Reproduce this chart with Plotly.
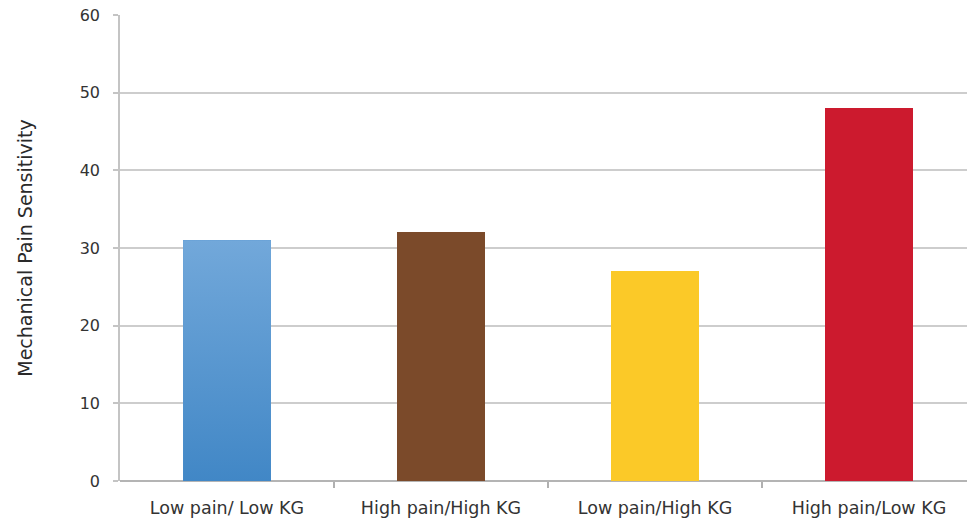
import plotly.graph_objects as go

# Group labels and mean mechanical pain sensitivity per group
groups = ["Low pain/ Low KG", "High pain/High KG", "Low pain/High KG", "High pain/Low KG"]
sensitivity = [31.0, 32.0, 27.1, 48.0]
bar_colors = ["#5897d2", "#7b4a2a", "#fbc928", "#cc1a2e"]
y_ticks = [0, 10, 20, 30, 40, 50, 60]

BAR_WIDTH = 0.41
positions = list(range(len(groups)))

fig = go.Figure()

fig.add_trace(go.Bar(
    x=positions,
    y=sensitivity,
    width=BAR_WIDTH,
    marker=dict(color=bar_colors, line=dict(width=0)),
    hovertext=groups,
    showlegend=False,
))

# First bar gets a soft top-to-bottom blue gradient
x0 = positions[0] - BAR_WIDTH / 2
x1 = positions[0] + BAR_WIDTH / 2
fig.add_trace(go.Scatter(
    x=[x0, x1, x1, x0, x0],
    y=[0, 0, sensitivity[0], sensitivity[0], 0],
    mode="lines",
    line=dict(width=0),
    fill="toself",
    fillgradient=dict(type="vertical",
                      colorscale=[[0, "#4187c6"], [1, "#72a8da"]]),
    hoverinfo="skip",
    showlegend=False,
))

FONT = "'DejaVu Sans', 'Open Sans', sans-serif"

fig.update_layout(
    width=967,
    height=523,
    margin=dict(l=120, r=0, t=15, b=42),
    paper_bgcolor="white",
    plot_bgcolor="white",
    bargap=0,
    xaxis=dict(
        range=[-0.5, -0.5 + 847 / 214],
        tickvals=positions,
        ticktext=groups,
        ticks="",
        tickfont=dict(family=FONT, size=17.5, color="#333333"),
        ticklabelstandoff=14,
        showgrid=False,
        zeroline=False,
        showline=False,
        minor=dict(tickvals=[p + 0.5 for p in positions], ticks="outside",
                   ticklen=6, tickcolor="#b0b0b0", tickwidth=1.5),
        fixedrange=True,
    ),
    yaxis=dict(
        range=[0, 60],
        tickvals=y_ticks,
        ticks="outside",
        ticklen=5,
        tickcolor="#c4c4c4",
        tickwidth=1.5,
        tickfont=dict(family=FONT, size=16, color="#333333"),
        ticklabelstandoff=10,
        showgrid=True,
        gridcolor="#cdcdcd",
        gridwidth=1.5,
        zeroline=True,
        zerolinecolor="#b4b4b4",
        zerolinewidth=1.5,
        showline=True,
        linecolor="#c4c4c4",
        linewidth=1.5,
        title=dict(text="Mechanical Pain Sensitivity",
                   font=dict(family=FONT, size=19, color="#2a2a2a"),
                   standoff=42),
        fixedrange=True,
    ),
)

fig.write_html("out.html")
